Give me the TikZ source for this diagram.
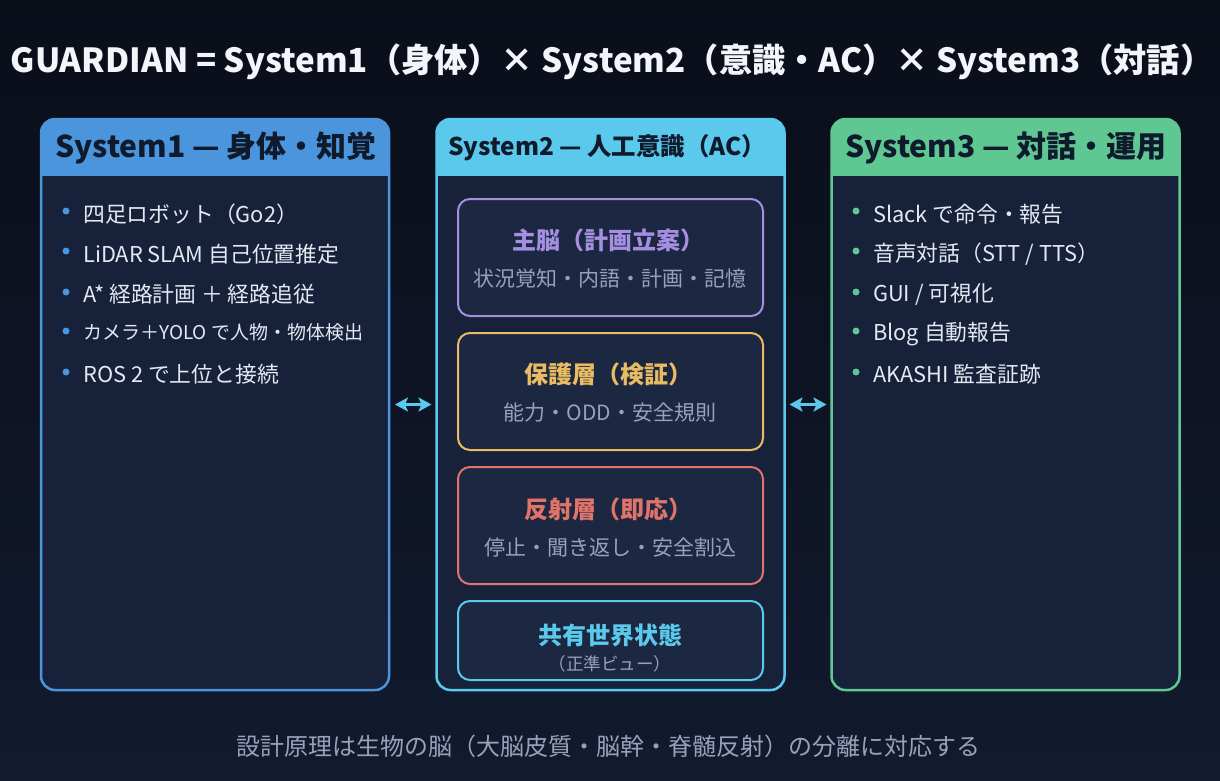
\documentclass[tikz,border=0pt]{standalone}
\usepackage{fontspec}
\setmainfont{Noto Sans CJK JP}
\usetikzlibrary{arrows.meta}
\definecolor{bgtop}{HTML}{0A0E19}
\definecolor{bgbot}{HTML}{121A2F}
\definecolor{panel}{HTML}{17213A}
\definecolor{innerbg}{HTML}{1C2741}
\definecolor{cblue}{HTML}{4A95DC}
\definecolor{ccyan}{HTML}{5BC9EC}
\definecolor{cgreen}{HTML}{5EC792}
\definecolor{cpurple}{HTML}{A48FE0}
\definecolor{cyellow}{HTML}{E9BB62}
\definecolor{cred}{HTML}{E0736A}
\definecolor{hdrtext}{HTML}{0F1A2C}
\definecolor{itemtext}{HTML}{E3E9F3}
\definecolor{subtext}{HTML}{97A2B8}
\definecolor{titletext}{HTML}{F2F5FA}
\newcommand{\fsz}[1]{\fontsize{#1}{#1}\selectfont}
\tikzset{
  panelbox/.style={fill=panel, line width=2.5pt, rounded corners=14pt, minimum height=571pt, minimum width=348pt, outer sep=0pt, inner sep=0pt},
  innerbox/.style={fill=innerbg, line width=2pt, rounded corners=12pt, minimum width=305pt, outer sep=0pt, inner sep=0pt},
  hdr/.style={text=hdrtext, font=\bfseries\fsz{30}, inner sep=0pt},
  item/.style={text=itemtext, font=\fsz{21.8}, anchor=west, inner sep=0pt},
  ititle/.style={font=\bfseries\fsz{24}, inner sep=0pt},
  isub/.style={text=subtext, font=\fsz{21}, inner sep=0pt},
  link/.style={draw=ccyan, line width=3pt, {Stealth[length=13pt,width=14pt,inset=3pt]}-{Stealth[length=13pt,width=14pt,inset=3pt]}},
}
\begin{document}
\begin{tikzpicture}[x=1pt,y=-1pt]
\shade[top color=bgtop, bottom color=bgbot] (0,0) rectangle (1220,780);
\useasboundingbox (0,0) rectangle (1220,780);

\node[titletext, font=\bfseries\fsz{33.2}, inner sep=0pt] (title) at (612,62) {GUARDIAN = System1（身体）× System2（意識・AC）× System3（対話）};

% panels
\node[panelbox, draw=cblue] (s1) at (215,404.5) {};
\node[panelbox, draw=ccyan] (s2) at (610.5,404.5) {};
\node[panelbox, draw=cgreen] (s3) at (1005.5,404.5) {};

\begin{scope}\clip (41,110) rectangle (389,175);
\fill[cblue, rounded corners=14pt] (41,119) rectangle (389,240);\end{scope}
\begin{scope}\clip (436,110) rectangle (785,175);
\fill[ccyan, rounded corners=14pt] (436,119) rectangle (785,240);\end{scope}
\begin{scope}\clip (831,110) rectangle (1180,175);
\fill[cgreen, rounded corners=14pt] (831,119) rectangle (1180,240);\end{scope}

\node[hdr] (h1) at (216,148) {System1 — 身体・知覚};
\node[hdr, font=\bfseries\fsz{24.4}] (h2) at (607,148) {System2 — 人工意識（AC）};
\node[hdr] (h3) at (1006,148) {System3 — 対話・運用};

% System1 items
\foreach \y in {211,251,292,331,372}{\fill[cblue] (66,\y) circle (3.5pt);}
\node[item] (p1a) at (83,214) {四足ロボット（Go2）};
\node[item] (p1b) at (83,254) {LiDAR SLAM 自己位置推定};
\node[item] (p1c) at (83,294) {A* 経路計画 ＋ 経路追従};
\node[item, font=\fsz{19}] (p1d) at (83,332) {カメラ＋YOLO で人物・物体検出};
\node[item] (p1e) at (83,374) {ROS 2 で上位と接続};

% System3 items
\foreach \y in {211,251,292,331,372}{\fill[cgreen] (856,\y) circle (3.5pt);}
\node[item] (p3a) at (873,214) {Slack で命令・報告};
\node[item] (p3b) at (873,254) {音声対話（STT / TTS）};
\node[item] (p3c) at (873,294) {GUI / 可視化};
\node[item] (p3d) at (873,334) {Blog 自動報告};
\node[item] (p3e) at (873,374) {AKASHI 監査証跡};

% System2 inner boxes
\node[innerbox, draw=cpurple, minimum height=117pt] (i1) at (610.5,257.5) {};
\node[innerbox, draw=cyellow, minimum height=117pt] (i2) at (610.5,391.5) {};
\node[innerbox, draw=cred, minimum height=117pt] (i3) at (610.5,525.5) {};
\node[innerbox, draw=ccyan, minimum height=79pt] (i4) at (610.5,640.5) {};

\node[ititle, text=cpurple] (t1) at (608,240) {主脳（計画立案）};
\node[isub] (u1) at (610,279) {状況覚知・内語・計画・記憶};
\node[ititle, text=cyellow] (t2) at (608,374) {保護層（検証）};
\node[isub] (u2) at (610,413) {能力・ODD・安全規則};
\node[ititle, text=cred] (t3) at (608,509) {反射層（即応）};
\node[isub] (u3) at (610,548) {停止・聞き返し・安全割込};
\node[ititle, text=ccyan] (t4) at (610,635) {共有世界状態};
\node[isub, font=\fsz{17.5}] (u4) at (610,664) {（正準ビュー）};

% links
\draw[link] ([xshift=6pt]s1.east) -- ([xshift=-5pt]s2.west);
\draw[link] ([xshift=5pt]s2.east) -- ([xshift=-5pt]s3.west);

\node[subtext, font=\fsz{24}, inner sep=0pt] (foot) at (608,746) {設計原理は生物の脳（大脳皮質・脳幹・脊髄反射）の分離に対応する};
\end{tikzpicture}
\end{document}
